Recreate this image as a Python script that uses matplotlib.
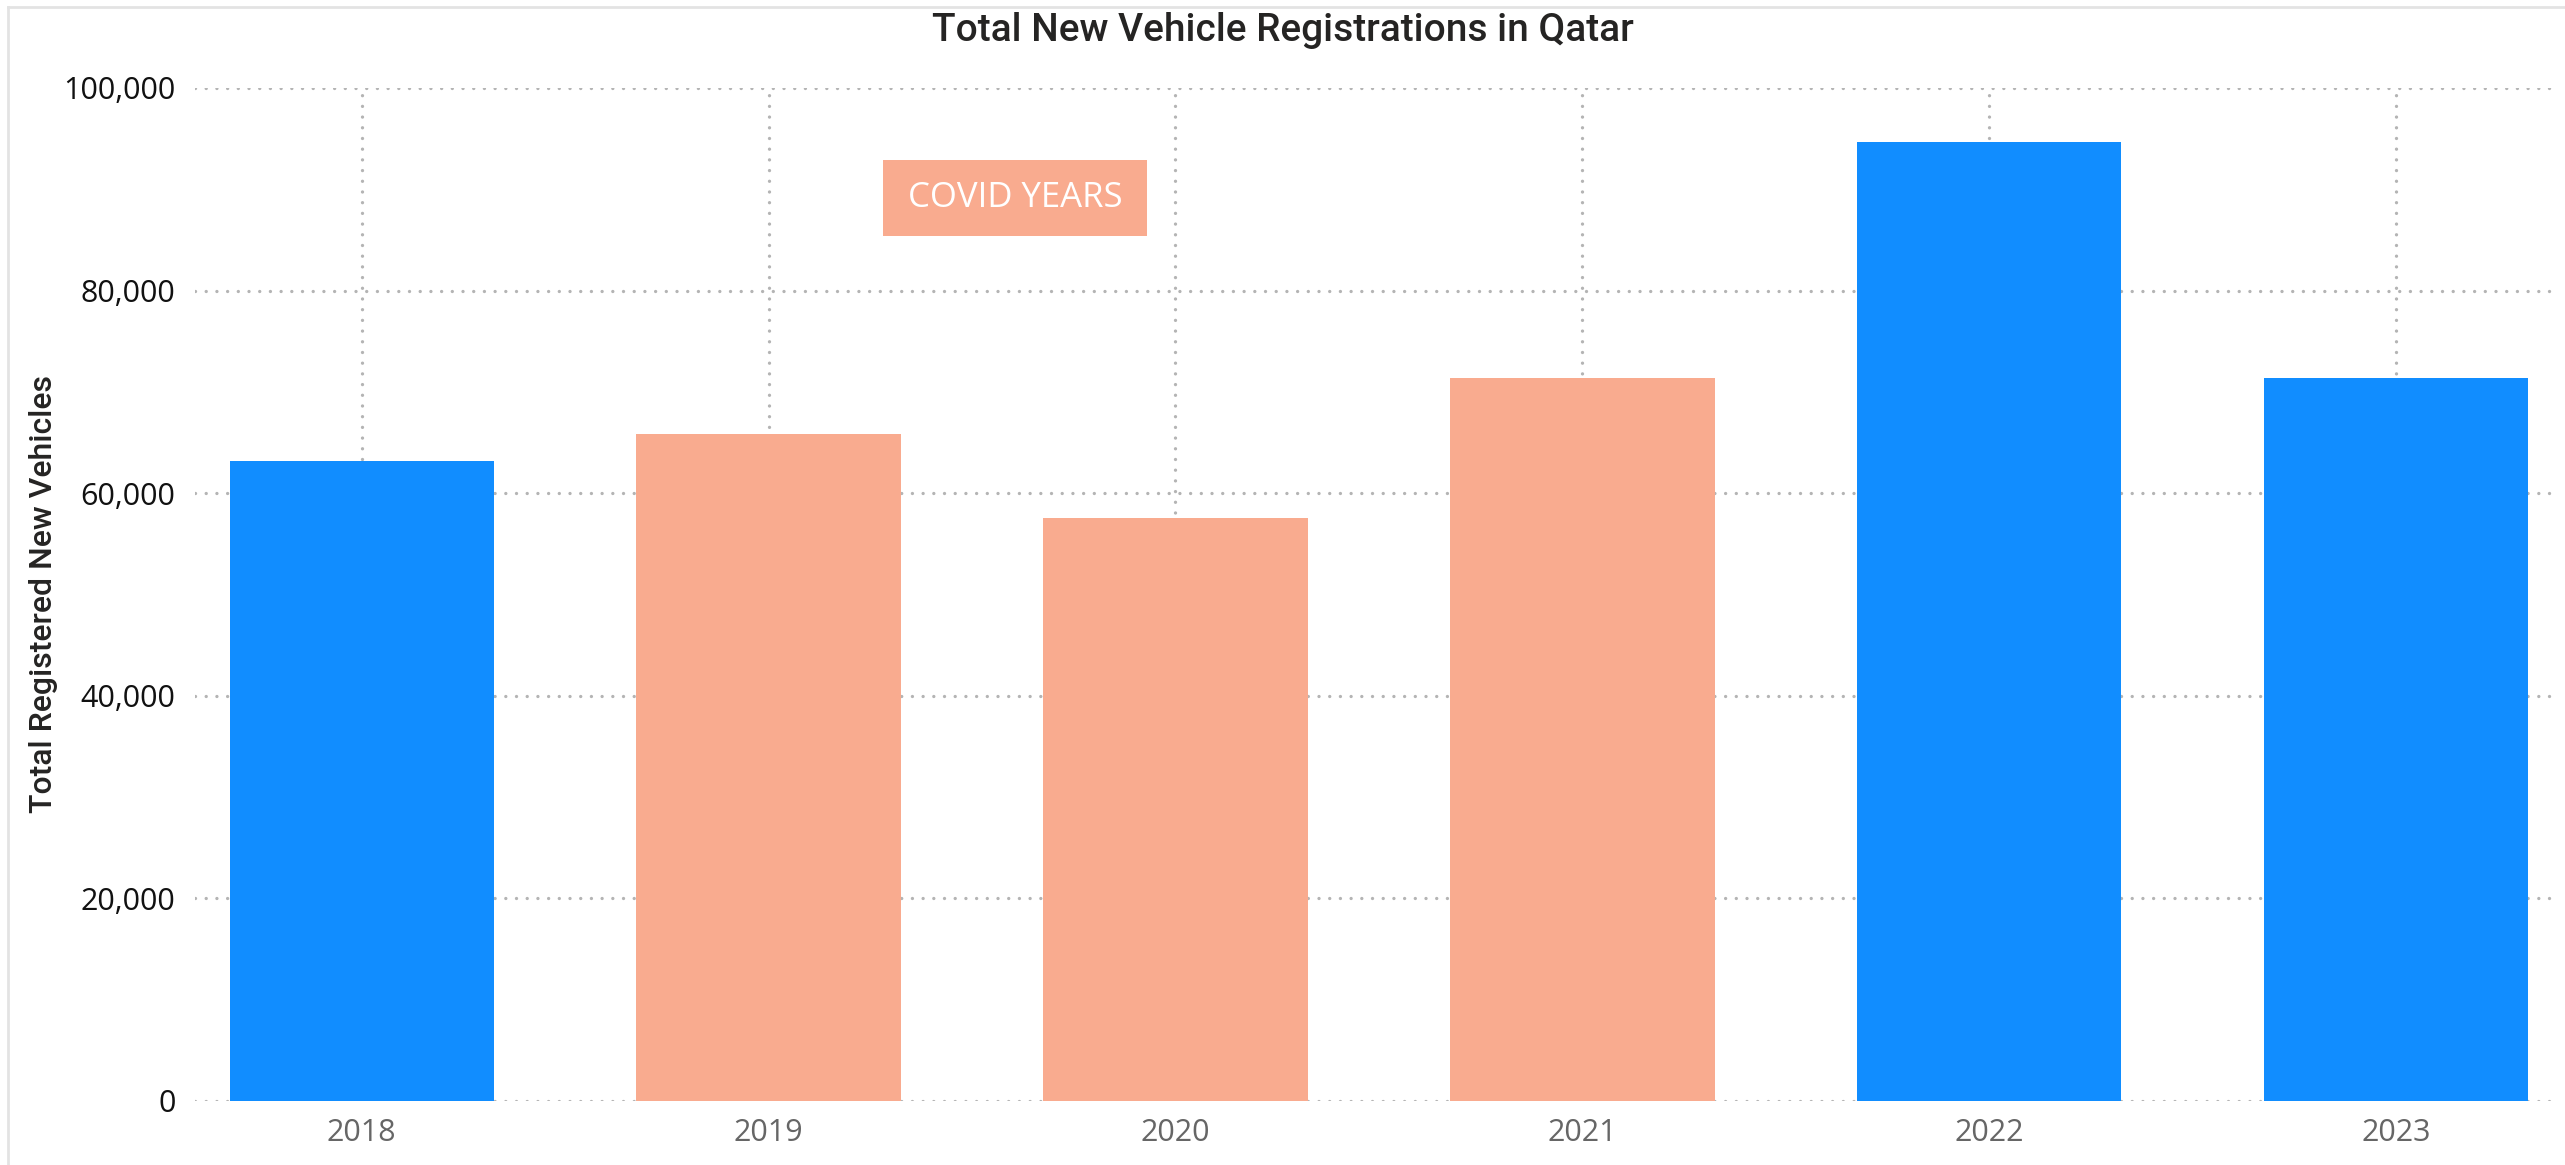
import numpy as np
import matplotlib
matplotlib.use('Agg')
from matplotlib import pyplot as plt
from matplotlib import ticker
from matplotlib.patches import Rectangle
from matplotlib.lines import Line2D

# Data
years         = ['2018', '2019', '2020', '2021', '2022', '2023']
registrations = [63200, 65800, 57500, 71400, 94700, 71400]
covid_years   = ['2019', '2020', '2021']

y_ticks = [0, 20000, 40000, 60000, 80000, 100000]

blue   = '#118DFF'
salmon = '#F9AB8F'
grid_c = '#B4B4B4'

bar_colors = [salmon if y in covid_years else blue for y in years]

fig = plt.figure(figsize=(25.65, 11.65), dpi=100)
ax = fig.add_axes([0.076, 0.055, 0.92, 0.8695])

x = np.arange(len(years))
ax.bar(x, registrations, width=0.65, color=bar_colors, zorder=3)

ax.set_xlim(-0.41, len(years) - 1 + 0.39)
ax.set_ylim(0, 100000)
ax.set_xticks(x)
ax.set_xticklabels(years, fontsize=22, color='#666666', family='Open Sans')
ax.set_yticks(y_ticks)
ax.yaxis.set_major_formatter(ticker.FuncFormatter(lambda v, p: '{:,.0f}'.format(v)))
for lbl in ax.get_yticklabels():
    lbl.set_fontsize(22)
    lbl.set_family('Open Sans')
    lbl.set_color('#111111')
ax.tick_params(axis='both', length=0)
ax.tick_params(axis='y', pad=14)
ax.tick_params(axis='x', pad=12)

# dotted grid behind the bars (round dots)
ax.set_axisbelow(True)
dots = (0, (0.01, 3.2))
ax.grid(True, axis='both', color=grid_c, linewidth=2.4, linestyle=dots, dash_capstyle='round')
for s in ax.spines.values():
    s.set_visible(False)

ax.set_ylabel('Total Registered New Vehicles', fontsize=23, family='Roboto', fontweight='medium', color='#252423')
ax.yaxis.set_label_coords(-0.058, 0.5)
fig.text(0.5, 0.974, 'Total New Vehicle Registrations in Qatar', ha='center', va='center',
         fontsize=28, family='Roboto', fontweight='medium', color='#252423')

# COVID YEARS label box
ax.add_patch(Rectangle((0.2915, 0.854), 0.1119, 0.075, transform=ax.transAxes,
                       facecolor=salmon, edgecolor='none', zorder=4))
ax.text(0.3475, 0.891, 'COVID YEARS', transform=ax.transAxes, ha='center', va='center',
        fontsize=25, family='Open Sans', color='white', zorder=5)

# light frame (left and top edges) around the visual
fig.add_artist(Line2D([8 / 2565, 8 / 2565], [0, 1 - 7 / 1165], transform=fig.transFigure, color='#E3E3E3', linewidth=2))
fig.add_artist(Line2D([8 / 2565, 1], [1 - 7 / 1165, 1 - 7 / 1165], transform=fig.transFigure, color='#E3E3E3', linewidth=2))

fig.savefig('out.png', dpi=100)
